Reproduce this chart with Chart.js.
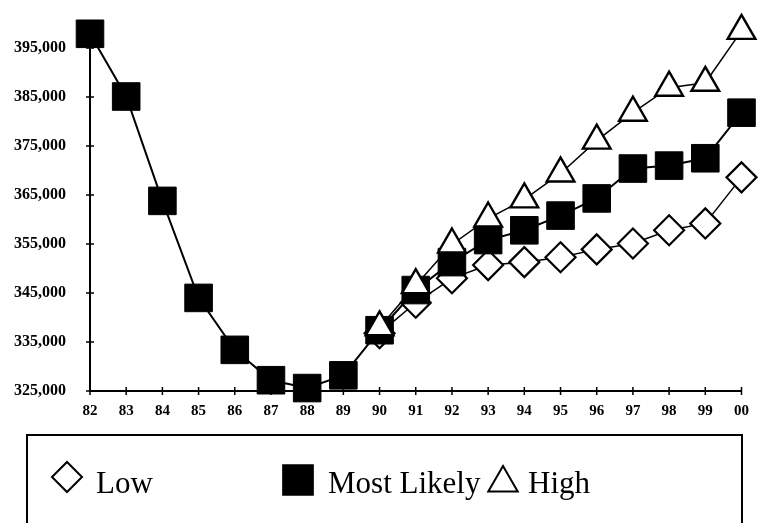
<!DOCTYPE html>
<html>
<head>
<meta charset="utf-8">
<script src="https://cdn.jsdelivr.net/npm/chart.js@4/dist/chart.umd.min.js"></script>
<style>
  html, body { margin: 0; padding: 0; background: #fff; }
  #wrap { width: 762px; height: 523px; position: relative; }
</style>
</head>
<body>
<div id="wrap"><canvas id="c" width="762" height="523"></canvas></div>
<script>
// Years (two-digit) along the horizontal axis
const years = ['82','83','84','85','86','87','88','89','90','91','92','93','94','95','96','97','98','99','00'];

// Forecast series; the projections split off from the actuals in 1990
const mostLikely = [397900, 385100, 363800, 344000, 333400, 327200, 325600, 328200, 337400, 345600, 351300, 355800, 357800, 360800, 364300, 370400, 371000, 372500, 381800];
const low        = [null, null, null, null, null, null, null, null, 336800, 343000, 348000, 350700, 351300, 352300, 353900, 355100, 357800, 359200, 368600];
const high       = [null, null, null, null, null, null, null, null, 338000, 346600, 354900, 360200, 364100, 369400, 376100, 381800, 386900, 387900, 398500];

// Value axis ticks
const yTicks = [325000, 335000, 345000, 355000, 365000, 375000, 385000, 395000];

const legendItems = [
  { label: 'Low',         series: 'Low',         symbolX: 67,  textX: 96,  },
  { label: 'Most Likely', series: 'Most Likely', symbolX: 298, textX: 328, },
  { label: 'High',        series: 'High',        symbolX: 503, textX: 528, }
];

const serif = "'Liberation Serif', 'DejaVu Serif', serif";

// Small cross-shaped tick marks on both axes
const crossTicks = {
  id: 'crossTicks',
  afterDatasetsDraw(chart) {
    const ctx = chart.ctx;
    const xs = chart.scales.x, ys = chart.scales.y;
    ctx.save();
    ctx.strokeStyle = '#000';
    ctx.lineWidth = 1.5;
    ctx.beginPath();
    xs.ticks.forEach((t, i) => {
      const px = xs.getPixelForTick(i);
      ctx.moveTo(px, xs.top - 4); ctx.lineTo(px, xs.top + 4);
    });
    ys.ticks.forEach((t, i) => {
      const py = ys.getPixelForTick(i);
      ctx.moveTo(ys.right - 4, py); ctx.lineTo(ys.right + 4, py);
    });
    ctx.stroke();
    ctx.restore();
  }
};

// Boxed legend below the plot
const boxedLegend = {
  id: 'boxedLegend',
  afterDraw(chart) {
    const ctx = chart.ctx;
    ctx.save();
    ctx.strokeStyle = '#000';
    ctx.lineWidth = 2;
    ctx.strokeRect(27, 435, 715, 110);
    const cy = 480;
    legendItems.forEach(item => {
      const ds = chart.data.datasets.find(d => d.label === item.series);
      ctx.fillStyle = ds.pointBackgroundColor;
      ctx.strokeStyle = '#000';
      ctx.lineWidth = 2;
      let r = ds.pointRadius;
      let y = cy;
      if (ds.pointStyle === 'triangle') { r = 17; y = cy + 3; }
      if (ds.pointStyle === 'rect') { r = 21; }
      if (ds.pointStyle === 'rectRot') { r = 15; y = cy - 3; }
      Chart.helpers.drawPoint(ctx, { pointStyle: ds.pointStyle, radius: r, rotation: 0, borderWidth: 2 }, item.symbolX, y);
      ctx.fillStyle = '#000';
      ctx.font = '31px ' + serif;
      ctx.textBaseline = 'alphabetic';
      ctx.textAlign = 'left';
      ctx.fillText(item.label, item.textX, 493);
    });
    ctx.restore();
  }
};

new Chart(document.getElementById('c'), {
  type: 'line',
  data: {
    labels: years,
    datasets: [
      {
        label: 'Low', data: low, order: 2,
        borderColor: '#000', borderWidth: 1.5,
        pointStyle: 'rectRot', pointRadius: 15,
        pointBackgroundColor: '#fff', pointBorderColor: '#000', pointBorderWidth: 2.2,
        tension: 0, spanGaps: false
      },
      {
        label: 'Most Likely', data: mostLikely, order: 1,
        borderColor: '#000', borderWidth: 2,
        pointStyle: 'rect', pointRadius: 19.5,
        pointBackgroundColor: '#000', pointBorderColor: '#000', pointBorderWidth: 1,
        tension: 0
      },
      {
        label: 'High', data: high, order: 0,
        borderColor: '#000', borderWidth: 1.5,
        pointStyle: 'triangle', pointRadius: 16,
        pointBackgroundColor: '#fff', pointBorderColor: '#000', pointBorderWidth: 2.4,
        tension: 0
      }
    ]
  },
  options: {
    responsive: false,
    animation: false,
    clip: false,
    layout: { padding: { top: 48, right: 10, left: 0, bottom: 0 } },
    plugins: {
      legend: { display: false },
      tooltip: { enabled: false },
      title: { display: false }
    },
    scales: {
      x: {
        type: 'category',
        offset: false,
        grid: { display: true, drawOnChartArea: false, drawTicks: false },
        border: { display: true, color: '#000', width: 2 },
        ticks: {
          color: '#000', padding: 11, maxRotation: 0, autoSkip: false,
          font: { family: serif, size: 15, weight: 'bold' }
        },
        afterFit(scale) { scale.height = 132; }
      },
      y: {
        min: 325000, max: 395000,
        afterBuildTicks(scale) { scale.ticks = yTicks.map(v => ({ value: v })); },
        grid: { display: true, drawOnChartArea: false, drawTicks: false },
        border: { display: true, color: '#000', width: 2 },
        ticks: {
          color: '#000', padding: 24,
          font: { family: serif, size: 16, weight: 'bold' },
          callback: v => v.toLocaleString('en-US')
        },
        afterFit(scale) { scale.width = 90; }
      }
    }
  },
  plugins: [crossTicks, boxedLegend]
});
</script>
</body>
</html>
